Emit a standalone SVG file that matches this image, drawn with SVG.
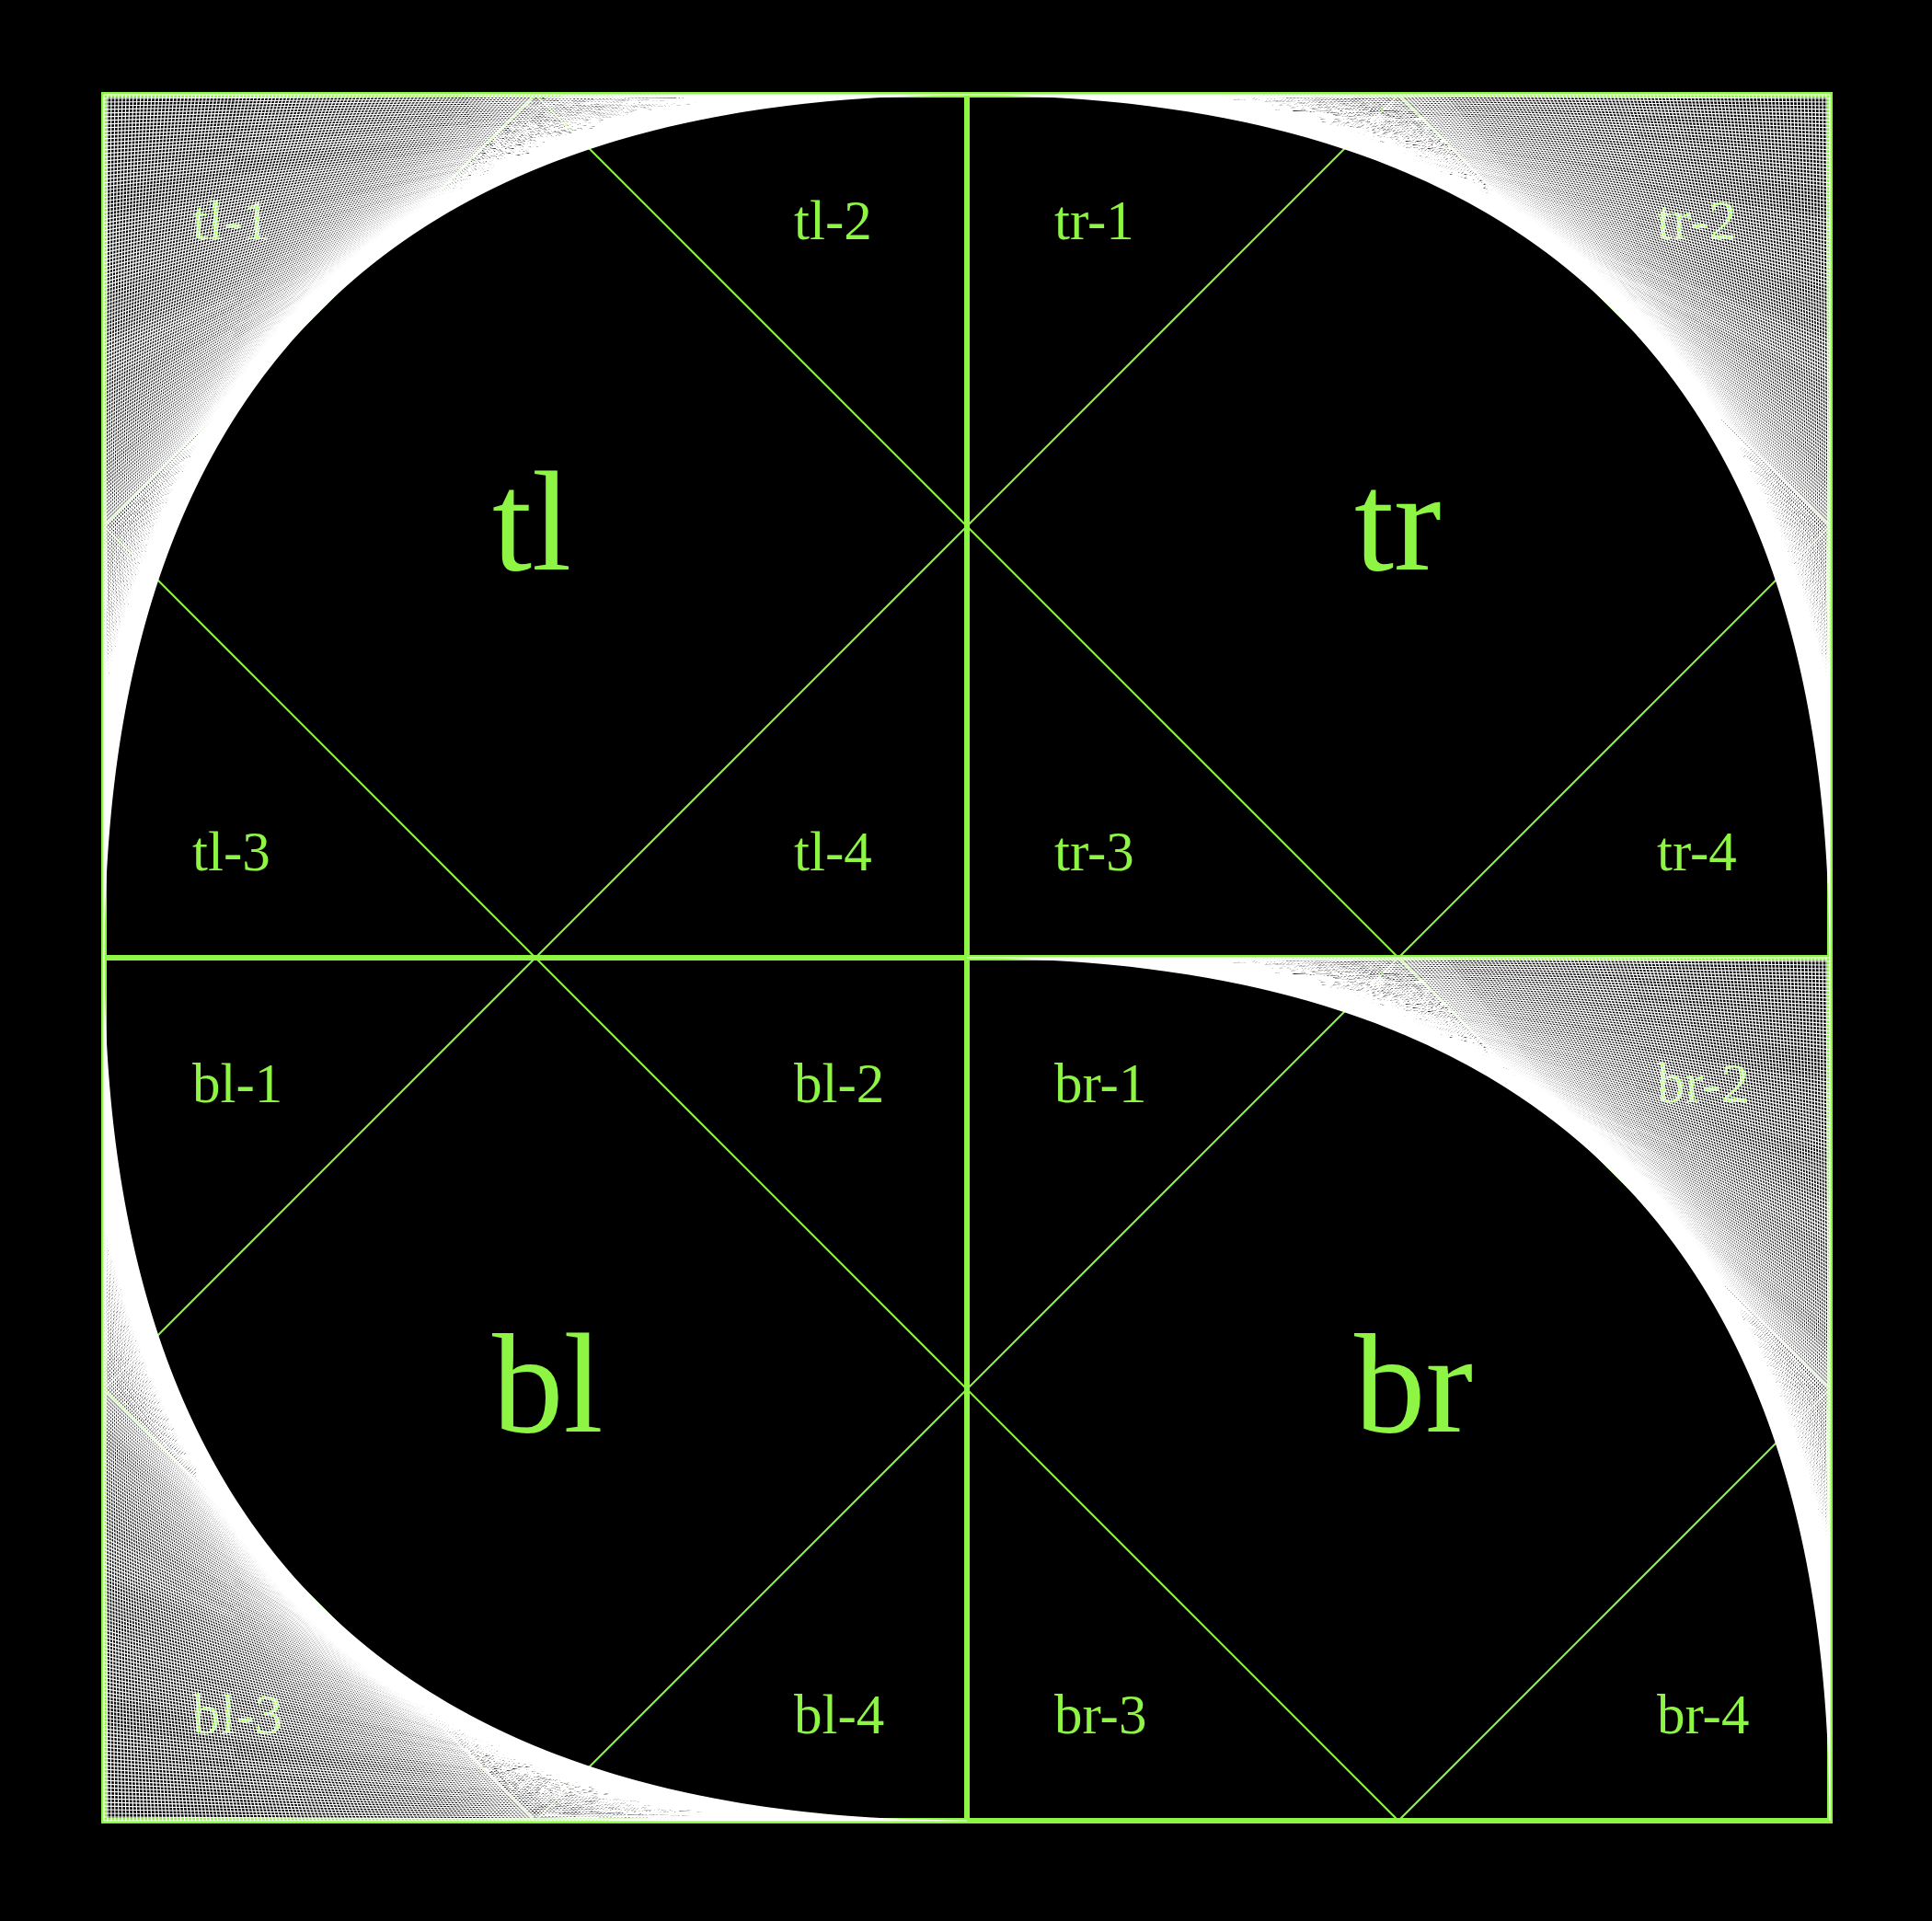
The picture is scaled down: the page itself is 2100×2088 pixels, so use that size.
<svg xmlns="http://www.w3.org/2000/svg" xmlns:xlink="http://www.w3.org/1999/xlink" width="2100" height="2088" viewBox="0 0 2100 2088">
<style>
.frame{fill:none;stroke:#8ef545;stroke-width:6}
.dia{fill:none;stroke:#8ef545;stroke-width:2}
.big{font-family:"Liberation Serif",serif;font-size:155px;fill:#8ef545}
.sm{font-family:"Liberation Serif",serif;font-size:61px;fill:#8ef545}
.art{fill:none;stroke:#ffffff;stroke-width:0.3}
</style>
<defs>
<path id="s" d="M235 0 0 0M234 0 0 1M233 0 0 2M232 0 0 3M231 0 0 4M230 0 0 5M229 0 0 6M228 0 0 7M227 0 0 8M226 0 0 9M225 0 0 10M224 0 0 11M223 0 0 12M222 0 0 13M221 0 0 14M220 0 0 15M219 0 0 16M218 0 0 17M217 0 0 18M216 0 0 19M215 0 0 20M214 0 0 21M213 0 0 22M212 0 0 23M211 0 0 24M210 0 0 25M209 0 0 26M208 0 0 27M207 0 0 28M206 0 0 29M205 0 0 30M204 0 0 31M203 0 0 32M202 0 0 33M201 0 0 34M200 0 0 35M199 0 0 36M198 0 0 37M197 0 0 38M196 0 0 39M195 0 0 40M194 0 0 41M193 0 0 42M192 0 0 43M191 0 0 44M190 0 0 45M189 0 0 46M188 0 0 47M187 0 0 48M186 0 0 49M185 0 0 50M184 0 0 51M183 0 0 52M182 0 0 53M181 0 0 54M180 0 0 55M179 0 0 56M178 0 0 57M177 0 0 58M176 0 0 59M175 0 0 60M174 0 0 61M173 0 0 62M172 0 0 63M171 0 0 64M170 0 0 65M169 0 0 66M168 0 0 67M167 0 0 68M166 0 0 69M165 0 0 70M164 0 0 71M163 0 0 72M162 0 0 73M161 0 0 74M160 0 0 75M159 0 0 76M158 0 0 77M157 0 0 78M156 0 0 79M155 0 0 80M154 0 0 81M153 0 0 82M152 0 0 83M151 0 0 84M150 0 0 85M149 0 0 86M148 0 0 87M147 0 0 88M146 0 0 89M145 0 0 90M144 0 0 91M143 0 0 92M142 0 0 93M141 0 0 94M140 0 0 95M139 0 0 96M138 0 0 97M137 0 0 98M136 0 0 99M135 0 0 100M134 0 0 101M133 0 0 102M132 0 0 103M131 0 0 104M130 0 0 105M129 0 0 106M128 0 0 107M127 0 0 108M126 0 0 109M125 0 0 110M124 0 0 111M123 0 0 112M122 0 0 113M121 0 0 114M120 0 0 115M119 0 0 116M118 0 0 117"/>
<g id="art" class="art"><use xlink:href="#s"/><use xlink:href="#s" transform="matrix(0 1 1 0 0 0)"/></g>
</defs>
<rect width="2100" height="2088" fill="#000"/>
<g id="frame">
<rect class="frame" x="113" y="103" width="1876" height="1876"/>
<path class="frame" d="M1051 103V1979M113 1041H1989"/>
</g>
<g id="tl">
<path class="dia" d="M582 103L1051 572L582 1041L113 572Z"/>
<text class="big" x="535" y="619">tl</text>
<text class="sm" x="209" y="260">tl-1</text>
<text class="sm" x="863" y="260">tl-2</text>
<text class="sm" x="209" y="946">tl-3</text>
<text class="sm" x="863" y="946">tl-4</text>
<use xlink:href="#art" transform="matrix(3.991489 0 0 3.991489 113 103)"/>
</g>
<g id="tr">
<path class="dia" d="M1520 103L1989 572L1520 1041L1051 572Z"/>
<text class="big" x="1472" y="619">tr</text>
<text class="sm" x="1146" y="260">tr-1</text>
<text class="sm" x="1801" y="260">tr-2</text>
<text class="sm" x="1146" y="946">tr-3</text>
<text class="sm" x="1801" y="946">tr-4</text>
<use xlink:href="#art" transform="matrix(-3.991489 0 0 3.991489 1989 103)"/>
</g>
<g id="bl">
<path class="dia" d="M582 1041L1051 1510L582 1979L113 1510Z"/>
<text class="big" x="535" y="1556">bl</text>
<text class="sm" x="209" y="1198">bl-1</text>
<text class="sm" x="863" y="1198">bl-2</text>
<text class="sm" x="209" y="1884">bl-3</text>
<text class="sm" x="863" y="1884">bl-4</text>
<use xlink:href="#art" transform="matrix(3.991489 0 0 -3.991489 113 1979)"/>
</g>
<g id="br">
<path class="dia" d="M1520 1041L1989 1510L1520 1979L1051 1510Z"/>
<text class="big" x="1472" y="1556">br</text>
<text class="sm" x="1146" y="1198">br-1</text>
<text class="sm" x="1801" y="1198">br-2</text>
<text class="sm" x="1146" y="1884">br-3</text>
<text class="sm" x="1801" y="1884">br-4</text>
<use xlink:href="#art" transform="matrix(-3.991489 0 0 3.991489 1989 1041)"/>
</g>
</svg>
